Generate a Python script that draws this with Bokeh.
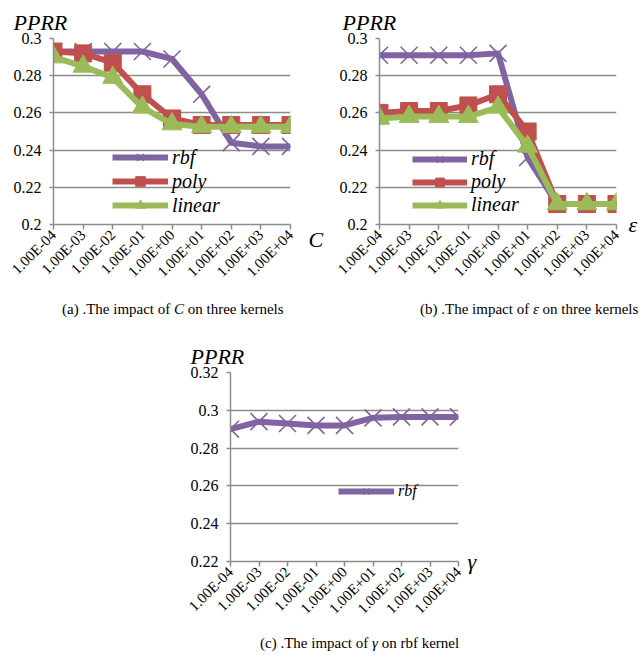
import math
from bokeh.plotting import figure
from bokeh.models import (Range1d, FixedTicker, PrintfTickFormatter, Legend, LegendItem,
                          Div, LinearAxis)
from bokeh.layouts import column, row
from bokeh.embed import file_html
from bokeh.resources import INLINE

# ---------------- data ----------------
x_labels = ["1.00E-04", "1.00E-03", "1.00E-02", "1.00E-01", "1.00E+00",
            "1.00E+01", "1.00E+02", "1.00E+03", "1.00E+04"]
x_pos = list(range(len(x_labels)))

# (a) impact of C
c_rbf = [0.293, 0.293, 0.293, 0.293, 0.289, 0.270, 0.244, 0.242, 0.242]
c_poly = [0.293, 0.292, 0.287, 0.270, 0.257, 0.2535, 0.2535, 0.2535, 0.2535]
c_linear = [0.290, 0.285, 0.279, 0.263, 0.254, 0.2525, 0.2525, 0.2525, 0.2525]

# (b) impact of epsilon
e_rbf = [0.291, 0.291, 0.291, 0.291, 0.292, 0.236, 0.211, 0.211, 0.211]
e_poly = [0.260, 0.261, 0.261, 0.264, 0.270, 0.250, 0.211, 0.211, 0.211]
e_linear = [0.257, 0.258, 0.258, 0.258, 0.263, 0.242, 0.211, 0.211, 0.211]

# (c) impact of gamma
g_rbf = [0.290, 0.294, 0.293, 0.292, 0.292, 0.296, 0.2965, 0.2965, 0.2965]

y_ticks_ab = [0.2, 0.22, 0.24, 0.26, 0.28, 0.3]
y_ticks_c = [0.22, 0.24, 0.26, 0.28, 0.3, 0.32]

series_names = ["rbf", "poly", "linear"]

# ---------------- style ----------------
FONT = "'Liberation Serif', 'Times New Roman', serif"
GRID = "#8c8c8c"
PURPLE = "#8064A2"
RED = "#C0504D"
GREEN = "#9BBB59"


def make_fig(w, h, bl, br, bt, bb, yticks, title_offset):
    p = figure(width=w, height=h,
               min_border_left=bl, min_border_right=br,
               min_border_top=bt, min_border_bottom=bb,
               x_range=Range1d(x_pos[0], x_pos[-1]),
               y_range=Range1d(yticks[0], yticks[-1]),
               title="PPRR",
               output_backend="svg", toolbar_location=None)
    p.outline_line_color = None
    p.xgrid.visible = False
    p.ygrid.grid_line_color = GRID
    p.ygrid.grid_line_width = 1.5

    p.title.align = "left"
    p.title.offset = title_offset
    p.title.text_font = FONT
    p.title.text_font_style = "italic"
    p.title.text_font_size = "22px"
    p.title.text_color = "#000000"
    p.title.standoff = 7

    xa = p.xaxis[0]
    xa.ticker = FixedTicker(ticks=x_pos)
    xa.major_label_overrides = {i: s for i, s in zip(x_pos, x_labels)}
    xa.major_label_orientation = math.pi / 4
    xa.major_label_text_font = FONT
    xa.major_label_text_font_size = "15px"
    xa.major_label_text_color = "#000000"
    xa.axis_line_color = GRID
    xa.axis_line_width = 1.5
    xa.major_tick_line_color = GRID
    xa.major_tick_line_width = 1.5
    xa.major_tick_in = 0
    xa.major_tick_out = 5
    xa.minor_tick_line_color = None
    xa.major_label_standoff = 3

    ya = p.yaxis[0]
    ya.ticker = FixedTicker(ticks=yticks)
    ya.formatter = PrintfTickFormatter(format="%g")
    ya.major_label_text_font = FONT
    ya.major_label_text_font_size = "16px"
    ya.major_label_text_color = "#000000"
    ya.axis_line_color = GRID
    ya.axis_line_width = 1.5
    ya.major_tick_line_color = GRID
    ya.major_tick_line_width = 1.5
    ya.major_tick_in = 0
    ya.major_tick_out = 4
    ya.minor_tick_line_color = None
    ya.major_label_standoff = 8
    return p


def add_series(p, ys, color, marker, size, lw=6):
    r1 = p.line(x_pos, ys, line_color=color, line_width=lw, line_join="round")
    if marker == "x":
        r2 = p.scatter(x_pos, ys, marker="x", size=size, line_color=color, line_width=1.6)
    else:
        r2 = p.scatter(x_pos, ys, marker=marker, size=size, fill_color=color, line_color=color)
    return [r1, r2]


def add_legend(p, items, loc, glyph_w, font_size, gh):
    lg = Legend(items=[LegendItem(label=n, renderers=r) for n, r in items],
                location=loc, padding=0, margin=0, spacing=0,
                glyph_width=glyph_w, glyph_height=gh, label_height=gh,
                label_standoff=4, border_line_color=None,
                background_fill_alpha=0,
                label_text_font=FONT, label_text_font_style="italic",
                label_text_font_size=font_size, label_text_color="#000000")
    p.add_layout(lg)


def add_axis_letter(p, letter, standoff):
    # a bare right-hand axis whose only tick sits at the bottom of the frame
    p.extra_y_ranges = {"letter": Range1d(0, 1)}
    ax = LinearAxis(y_range_name="letter", ticker=FixedTicker(ticks=[0]),
                    major_label_overrides={0: letter},
                    axis_line_color=None, major_tick_line_color=None,
                    minor_tick_line_color=None, major_tick_in=0, major_tick_out=0,
                    major_label_standoff=standoff,
                    major_label_text_font=FONT, major_label_text_font_style="italic",
                    major_label_text_font_size="22px", major_label_text_color="#000000")
    p.add_layout(ax, "right")


def caption(html, width, height, pad_left, pad_top):
    style = ("margin:0;white-space:nowrap;font-family:'Liberation Serif','Times New Roman',serif;"
             "font-size:15px;line-height:20px;color:#000;padding-left:%dpx;padding-top:%dpx;" % (pad_left, pad_top))
    return Div(text='<div style="%s">%s</div>' % (style, html),
               width=width, height=height, margin=0)


# ---------------- (a) ----------------
pa = make_fig(330, 295, 53, 40, 38, 68, y_ticks_ab, -40)
ra = add_series(pa, c_rbf, PURPLE, "x", 24)
rp = add_series(pa, c_poly, RED, "square", 17)
rl = add_series(pa, c_linear, GREEN, "triangle", 20)
add_legend(pa, list(zip(series_names, [ra, rp, rl])), (59, 7), 56, "20px", 24)
add_axis_letter(pa, "\nC", 18)

# ---------------- (b) ----------------
pb = make_fig(314, 295, 49, 28, 38, 71, y_ticks_ab, -37)
rb1 = add_series(pb, e_rbf, PURPLE, "x", 24)
rb2 = add_series(pb, e_poly, RED, "square", 17)
rb3 = add_series(pb, e_linear, GREEN, "triangle", 20)
add_legend(pb, list(zip(series_names, [rb1, rb2, rb3])), (33, 8), 55, "20px", 22)
add_axis_letter(pb, "\u03b5", 12)

# ---------------- (c) ----------------
pc = make_fig(644, 299, 230, 186, 42, 68, y_ticks_c, -40)
rc = add_series(pc, g_rbf, PURPLE, "x", 24)
add_legend(pc, [("rbf", rc)], (108, 60), 56, "16px", 20)
add_axis_letter(pc, "\u03b3", 9)

cap_a = caption("(a) .The impact of <i>C</i> on three kernels", 330, 35, 62, 4)
cap_b = caption("(b) .The impact of <i>&epsilon;</i> on three kernels", 314, 35, 90, 4)
cap_c = caption("(c) .The impact of <i>&gamma;</i> on rbf kernel", 644, 31, 260, 4)

layout = column(row(pa, pb), row(cap_a, cap_b), pc, cap_c)
open("out.html", "w").write(file_html(layout, INLINE))
